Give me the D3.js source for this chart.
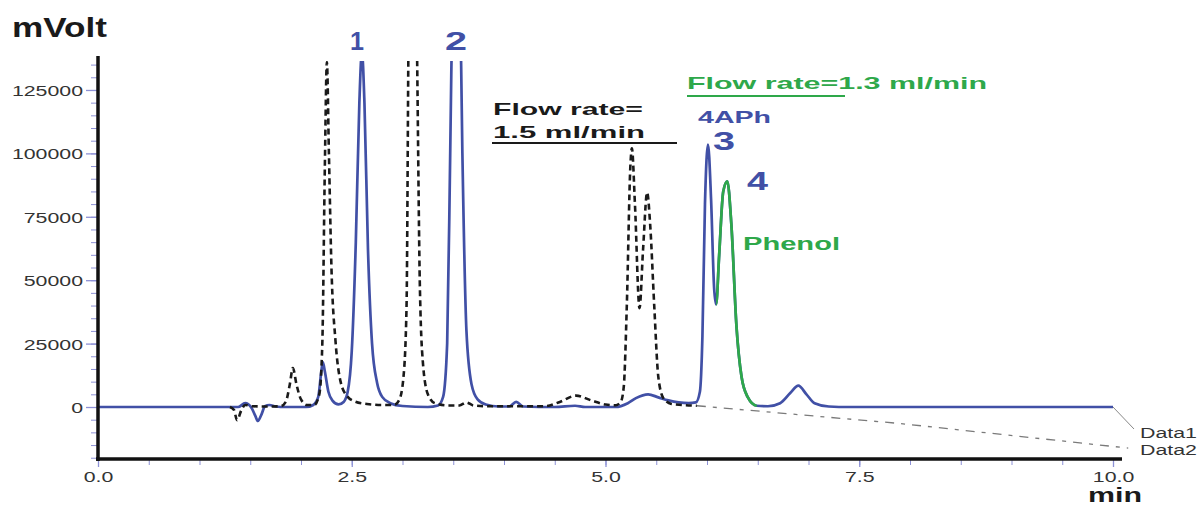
<!DOCTYPE html>
<html>
<head>
<meta charset="utf-8">
<script src="https://cdnjs.cloudflare.com/ajax/libs/d3/7.8.5/d3.min.js"></script>
<style>
  body { margin: 0; background: #fff; }
  svg { display: block; font-family: "Liberation Sans", Arial, sans-serif; }
</style>
</head>
<body>
<svg id="chart" width="1200" height="506"></svg>
<script>
// --- data: [time (min), signal (mVolt)] ---
var data1 = [
  [0,0],[1.38,0],[1.45,1500],[1.51,-200],[1.55,-3500],[1.575,-5500],[1.61,-3000],[1.645,300],
  [1.69,800],[1.75,200],[1.85,0],[2.05,0],[2.12,800],[2.17,4000],[2.20,14000],[2.215,17700],
  [2.235,14000],[2.27,6000],[2.31,2500],[2.37,1000],[2.42,2000],[2.46,6000],[2.50,22000],
  [2.54,65000],[2.575,120000],[2.60,140000],[2.625,120000],[2.66,62000],[2.70,25000],
  [2.75,9500],[2.80,4000],[2.88,1500],[3.00,400],[3.25,0],[3.35,600],[3.40,4000],[3.44,25000],
  [3.47,100000],[3.50,180000],[3.53,200000],[3.56,180000],[3.59,100000],[3.63,30000],
  [3.68,9000],[3.74,3000],[3.82,1000],[3.95,200],[4.05,200],[4.12,2000],[4.19,200],[4.50,0],
  [4.70,500],[4.80,0],[5.10,0],[5.22,1500],[5.30,3500],[5.42,5000],[5.52,3800],[5.62,2600],
  [5.72,1800],[5.82,1500],[5.89,1800],[5.93,6000],[5.955,28000],[5.98,80000],[6.01,103500],
  [6.04,82000],[6.07,47000],[6.09,40500],[6.12,60000],[6.16,85000],[6.20,89000],[6.24,72000],
  [6.29,32000],[6.34,12000],[6.40,4000],[6.49,500],[6.60,300],[6.72,1500],[6.82,5500],
  [6.90,8400],[6.98,5000],[7.06,1500],[7.20,200],[7.40,0],[10.0,0]
];
var data2 = [
  [1.30,0],[1.34,-1200],[1.37,-5200],[1.41,-1500],[1.45,800],[1.52,300],[1.65,200],[1.80,300],
  [1.85,2000],[1.89,9000],[1.92,15400],[1.955,9000],[2.00,3000],[2.06,800],[2.13,800],
  [2.18,5000],[2.21,25000],[2.235,95000],[2.255,136000],[2.275,100000],[2.30,55000],
  [2.34,26000],[2.39,10000],[2.45,4500],[2.53,2200],[2.65,1200],[2.80,800],[2.92,800],
  [2.97,3000],[3.01,12000],[3.04,40000],[3.06,150000],[3.10,230000],[3.14,150000],
  [3.17,50000],[3.20,18000],[3.25,5000],[3.32,1500],[3.45,600],[3.56,600],[3.63,1800],
  [3.70,600],[3.85,300],[4.40,300],[4.55,2000],[4.71,4500],[4.86,2600],[5.00,1000],[5.10,700],
  [5.15,2000],[5.18,8000],[5.21,40000],[5.245,95000],[5.26,102000],[5.29,80000],[5.335,39000],
  [5.37,62000],[5.41,84600],[5.44,72000],[5.48,40000],[5.52,12000],[5.57,3500],[5.65,1200],
  [5.75,800],[5.90,500]
];
var drift = [[5.90,500],[7.90,-6500],[10.15,-16200]];
var greenRange = [6.09, 6.49];

var yMajor = [0, 25000, 50000, 75000, 100000, 125000];
var yMinor = d3.range(-20000, 136000, 5000);
var xMajor = [0, 2.5, 5, 7.5, 10];
var xMinor = d3.range(0, 10.01, 0.5);

var blue = "#4150a6", green = "#2ea84a", tickCol = "#8d91d6";

var svg = d3.select("#chart");
var x = d3.scaleLinear().domain([0, 10]).range([98, 1113]);
var y = d3.scaleLinear().domain([-20500, 138000]).range([459, 57]);

// stretch text horizontally like the original (wide lettering)
function stretch(sel, f) {
  sel.each(function() {
    var w = this.getComputedTextLength();
    d3.select(this).attr("textLength", w * f).attr("lengthAdjust", "spacingAndGlyphs");
  });
}

// y axis ticks
var ya = svg.append("g").attr("transform", "translate(98,0)");
ya.call(d3.axisLeft(y).tickValues(yMinor).tickSize(7).tickFormat(""));
ya.call(function(g){ g.select(".domain").remove(); g.selectAll("line").attr("stroke", tickCol); });
var yb = svg.append("g").attr("transform", "translate(98,0)");
yb.call(d3.axisLeft(y).tickValues(yMajor).tickSize(12).tickPadding(3).tickFormat(d3.format("d")));
yb.select(".domain").remove();
yb.selectAll("line").attr("stroke", tickCol).attr("stroke-width", 1.3);
yb.selectAll("text").attr("font-size", 15).attr("fill", "#333").attr("dy", "0.36em")
  .attr("font-family", "Liberation Sans, Arial, sans-serif").call(stretch, 1.42);

// x axis ticks
var xa = svg.append("g").attr("transform", "translate(0,459)");
xa.call(d3.axisBottom(x).tickValues(xMinor).tickSize(6).tickFormat(""));
xa.call(function(g){ g.select(".domain").remove(); g.selectAll("line").attr("stroke", tickCol); });
var xb = svg.append("g").attr("transform", "translate(0,459)");
xb.call(d3.axisBottom(x).tickValues(xMajor).tickSize(8).tickPadding(4).tickFormat(d3.format(".1f")));
xb.select(".domain").remove();
xb.selectAll("line").attr("stroke", tickCol).attr("stroke-width", 1.3);
xb.selectAll("text").attr("font-size", 15).attr("fill", "#333")
  .attr("font-family", "Liberation Sans, Arial, sans-serif").call(stretch, 1.42);

// clip the off-scale peaks
var defs = svg.append("defs");
defs.append("clipPath").attr("id", "plot")
  .append("rect").attr("x", 99).attr("y", 61).attr("width", 1045).attr("height", 400);
defs.append("clipPath").attr("id", "greenClip")
  .append("rect").attr("x", x(greenRange[0])).attr("y", 61)
  .attr("width", x(greenRange[1]) - x(greenRange[0])).attr("height", 400);

var line = d3.line().x(function(d){ return x(d[0]); }).y(function(d){ return y(d[1]); })
  .curve(d3.curveMonotoneX);
var lin = d3.line().x(function(d){ return x(d[0]); }).y(function(d){ return y(d[1]); });

var plot = svg.append("g").attr("clip-path", "url(#plot)");
plot.append("path").datum(drift).attr("d", lin).attr("fill", "none")
  .attr("stroke", "#7a7a7a").attr("stroke-width", 1.3).attr("stroke-dasharray", "9,7,4,7");
plot.append("path").datum(data1).attr("d", line).attr("fill", "none")
  .attr("stroke", blue).attr("stroke-width", 2.7).attr("stroke-linejoin", "round");
plot.append("g").attr("clip-path", "url(#greenClip)")
  .append("path").datum(data1).attr("d", line).attr("fill", "none")
  .attr("stroke", green).attr("stroke-width", 2.7);
plot.append("path").datum(data2).attr("d", line).attr("fill", "none")
  .attr("stroke", "#1a1a1a").attr("stroke-width", 2.6).attr("stroke-dasharray", "6,4");

// leader to Data1 label
svg.append("line").attr("x1", x(10)).attr("y1", y(0)).attr("x2", 1134).attr("y2", 429)
  .attr("stroke", "#888").attr("stroke-width", 1);

// axis lines
svg.append("line").attr("x1", 98).attr("x2", 98).attr("y1", 56).attr("y2", 461)
  .attr("stroke", "#111").attr("stroke-width", 3.5);
svg.append("line").attr("x1", 96).attr("x2", 1122).attr("y1", 459).attr("y2", 459)
  .attr("stroke", "#111").attr("stroke-width", 3.5);

// labels
function label(txt, px, py, size, color, len, weight, anchor) {
  svg.append("text").attr("x", px).attr("y", py).attr("font-size", size)
    .attr("fill", color).attr("font-weight", weight || "bold")
    .attr("text-anchor", anchor || "start")
    .attr("textLength", len).attr("lengthAdjust", "spacingAndGlyphs").text(txt);
}
label("mVolt", 12, 37, 28, "#1a1a1a", 95);
label("1", 357, 50, 26, blue, 14, "bold", "middle");
label("2", 456, 50, 26, blue, 22, "bold", "middle");
label("Flow rate=", 493, 115, 17, "#1a1a1a", 150);
label("1.5 ml/min", 493, 138, 17, "#1a1a1a", 152);
svg.append("line").attr("x1", 492).attr("x2", 677).attr("y1", 143).attr("y2", 143)
  .attr("stroke", "#1a1a1a").attr("stroke-width", 2);
label("Flow rate=1.3 ml/min", 687, 89, 17, green, 300);
svg.append("line").attr("x1", 687).attr("x2", 845).attr("y1", 96).attr("y2", 96)
  .attr("stroke", green).attr("stroke-width", 2);
label("4APh", 698, 123, 17, blue, 73);
label("3", 713, 150, 25, blue, 22);
label("4", 747, 190, 26, blue, 21);
label("Phenol", 743, 250, 19, green, 97);
label("min", 1088, 502, 21, "#1a1a1a", 54);
label("Data1", 1140, 438, 14, "#333", 57, "normal");
label("Data2", 1140, 455, 14, "#333", 57, "normal");
</script>
</body>
</html>
